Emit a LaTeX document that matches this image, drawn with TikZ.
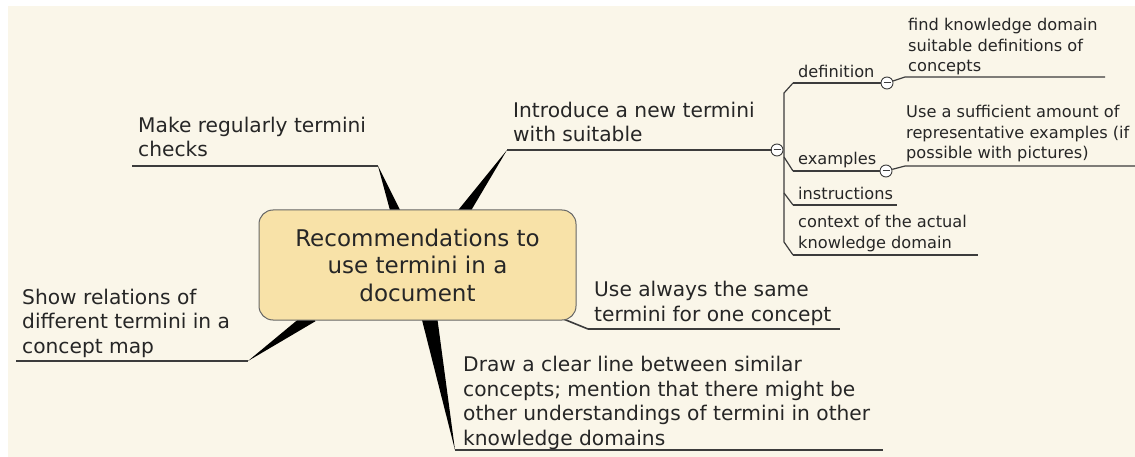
\documentclass[tikz,border=0pt]{standalone}
\usepackage{fontspec}
\setmainfont{DejaVu Sans}
\usetikzlibrary{calc}
\definecolor{bg}{HTML}{FAF6E9}
\definecolor{rootfill}{HTML}{F8E2A8}
\definecolor{ink}{HTML}{262626}
\definecolor{edge}{HTML}{3C3C3C}
\begin{document}
\begin{tikzpicture}[x=1pt,y=-1pt,
  rootbox/.style={draw=black!60,line width=1pt,fill=rootfill,rounded corners=14pt,
    minimum width=317pt,minimum height=110pt,align=center,text=ink,
    font=\fontsize{23}{27.5}\selectfont,inner sep=0pt},
  bigtext/.style={font=\fontsize{20.2}{24.5}\selectfont,text=ink,align=left,inner sep=0pt,anchor=base west},
  smalltext/.style={font=\fontsize{16.2}{20.5}\selectfont,text=ink,align=left,inner sep=0pt,anchor=base west},
  uline/.style={draw=edge,line width=1.2pt},
  wedge/.style={fill=black},
  toggle/.style={circle,draw=edge,line width=0.9pt,fill=white,minimum size=12pt,inner sep=0pt,
    path picture={\draw[edge,line width=1pt] ($(path picture bounding box.center)+(-3.5pt,0)$) -- ($(path picture bounding box.center)+(3.5pt,0)$);}}
]
\useasboundingbox (0,0) rectangle (1135,457);
\fill[white] (0,0) rectangle (1135,457);
\fill[bg] (8,6) rectangle (1135,457);

% named points
\coordinate (mkA) at (132,166); \coordinate (mkB) at (378,166);
\coordinate (inA) at (507,150); \coordinate (inB) at (771,150);
\coordinate (shA) at (16,361);  \coordinate (shB) at (248,361);
\coordinate (usA) at (588,329); \coordinate (usB) at (840,329);
\coordinate (drA) at (455,450); \coordinate (drB) at (883,450);

% wedges (under the central box)
\fill[wedge] (mkB) -- (391,214) -- (402,214) -- cycle;
\fill[wedge] (inA) -- (455,214) -- (469,214) -- cycle;
\fill[wedge] (shB) -- (308.5,310.8) -- (315.5,321.2) -- cycle;
\fill[wedge] (drA) -- (421,316) -- (437,316) -- cycle;
\draw[edge,line width=1.6pt] (556,316) -- (usA);

\node[rootbox] (root) at (417.5,265) {Recommendations to\\use termini in a\\document};

% underlines
\draw[uline] (mkA) -- (mkB);
\draw[uline] (inA) -- (inB);
\draw[uline] (shA) -- (shB);
\draw[uline] (usA) -- (usB);
\draw[uline] (drA) -- (drB);

% branch texts (anchored at the baseline of the last line)
\node[bigtext] (mk) at (138,157) {Make regularly termini\\checks};
\node[bigtext] (in) at (513,142) {Introduce a new termini\\with suitable};
\node[bigtext] (sh) at (22,353) {Show relations of\\different termini in a\\concept map};
\node[bigtext] (us) at (594,321) {Use always the same\\termini for one concept};
\node[bigtext] (dr) at (463,445) {Draw a clear line between similar\\concepts; mention that there might be\\other understandings of termini in other\\knowledge domains};

% sub tree
\node[toggle] (tin) at (777,150) {};
\draw[uline] (tin) -- (inB);
\coordinate (dfA) at (793,83); \coordinate (exA) at (793,171);
\coordinate (isA) at (793,205); \coordinate (cxA) at (793,255);
\draw[uline] (dfA) -- (784,93) -- (784,242) -- (cxA);
\draw[uline] (784,157) -- (exA);
\draw[uline] (784,193) -- (isA);

\node[toggle] (tdf) at (887,83) {};
\node[toggle] (tex) at (886,171) {};
\draw[uline] (dfA) -- (tdf);
\draw[uline] (exA) -- (tex);
\coordinate (fkA) at (905,77); \coordinate (fkB) at (1105,77);
\coordinate (uaA) at (905,166); \coordinate (uaB) at (1135,166);
\draw[uline] (tdf) -- (fkA) -- (fkB);
\draw[uline] (tex) -- (uaA) -- (uaB);
\draw[uline] (isA) -- (897,205);
\draw[uline] (cxA) -- (978,255);

\node[smalltext] (df) at (798,78) {definition};
\node[smalltext] (ex) at (798,165) {examples};
\node[smalltext] (is) at (798,200) {instructions};
\node[smalltext] (cx) at (798,248) {context of the actual\\knowledge domain};
\node[smalltext] (fk) at (908,72) {find knowledge domain\\suitable definitions of\\concepts};
\node[smalltext] (ua) at (906,159) {Use a sufficient amount of\\representative examples (if\\possible with pictures)};
\end{tikzpicture}
\end{document}
